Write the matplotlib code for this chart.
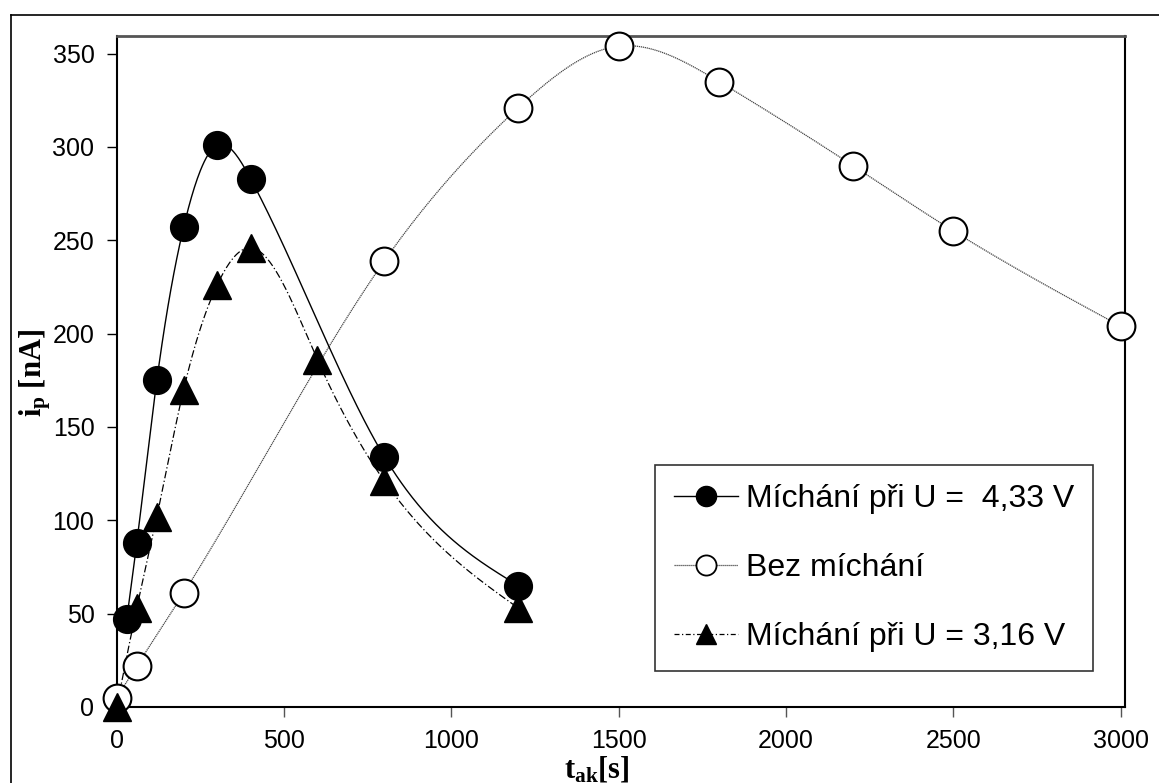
import numpy as np
import matplotlib.pyplot as plt
from matplotlib.lines import Line2D

# data
t_433 = [30, 60, 120, 200, 300, 400, 800, 1200]
i_433 = [47, 88, 175, 257, 301, 283, 134, 65]

t_bez = [0, 60, 200, 800, 1200, 1500, 1800, 2200, 2500, 3000]
i_bez = [5, 22, 61, 239, 321, 354, 335, 290, 255, 204]

t_316 = [0, 60, 120, 200, 300, 400, 600, 800, 1200]
i_316 = [0, 53, 102, 170, 226, 246, 186, 121, 53]

x_ticks = [0, 500, 1000, 1500, 2000, 2500, 3000]
y_ticks = [0, 50, 100, 150, 200, 250, 300, 350]

labels = ['Míchání při U =  4,33 V', 'Bez míchání', 'Míchání při U = 3,16 V']


def spline(x, y, n=400):
    # natural cubic spline through the points, for the smooth connecting line
    x = np.asarray(x, float)
    y = np.asarray(y, float)
    k = len(x)
    h = np.diff(x)
    A = np.zeros((k, k))
    b = np.zeros(k)
    A[0, 0] = A[-1, -1] = 1
    for i in range(1, k - 1):
        A[i, i - 1] = h[i - 1]
        A[i, i] = 2 * (h[i - 1] + h[i])
        A[i, i + 1] = h[i]
        b[i] = 6 * ((y[i + 1] - y[i]) / h[i] - (y[i] - y[i - 1]) / h[i - 1])
    M = np.linalg.solve(A, b)
    xs = np.linspace(x[0], x[-1], n)
    j = np.clip(np.searchsorted(x, xs) - 1, 0, k - 2)
    d = xs - x[j]
    hj = h[j]
    a = (y[j + 1] - y[j]) / hj - hj * (2 * M[j] + M[j + 1]) / 6
    ys = y[j] + a * d + M[j] / 2 * d ** 2 + (M[j + 1] - M[j]) / (6 * hj) * d ** 3
    return xs, ys


plt.rcParams['font.family'] = ['Liberation Sans', 'DejaVu Sans']
plt.rcParams['mathtext.fontset'] = 'custom'
plt.rcParams['mathtext.bf'] = 'Liberation Serif:bold'
plt.rcParams['mathtext.rm'] = 'Liberation Serif'
plt.rcParams['mathtext.it'] = 'Liberation Serif:italic'

fig = plt.figure(figsize=(11.59, 7.83), dpi=100)
ax = fig.add_axes([116.7 / 1159, 1 - 707 / 783, (1125 - 116.7) / 1159, (707 - 35.7) / 783])

dot_ls = (0, (1, 0.6))
dash_dot = (0, (6, 2, 1, 2))

xs, ys = spline(t_bez, i_bez)
ax.plot(xs, ys, color='#444444', lw=0.9, ls=dot_ls, zorder=2)
ax.plot(t_bez, i_bez, ls='none', marker='o', ms=20, mfc='white', mec='black', mew=1.5,
        zorder=3, clip_on=False)

xs, ys = spline(t_433, i_433)
ax.plot(xs, ys, color='black', lw=1.0, zorder=2)
ax.plot(t_433, i_433, ls='none', marker='o', ms=20, mfc='black', mec='black', zorder=4, clip_on=False)

xs, ys = spline(t_316, i_316)
ax.plot(xs, ys, color='black', lw=0.9, ls=dash_dot, zorder=2)
ax.plot(t_316, i_316, ls='none', marker='^', ms=20, mfc='black', mec='black', zorder=5, clip_on=False)

ax.set_xlim(0, 3013)
ax.set_ylim(0, 359.6)
ax.set_xticks(x_ticks)
ax.set_yticks(y_ticks)
ax.tick_params(axis='both', direction='out', length=7, width=1, labelsize=18, pad=9)
ax.tick_params(axis='x', color='#555555')
for s in ['left', 'bottom', 'right']:
    ax.spines[s].set_linewidth(1.5)
ax.spines['top'].set_color('#555555')
ax.spines['top'].set_linewidth(2)

fig.text(597 / 1159, 1 - 770 / 783, r'$\mathbf{t_{ak}[s]}$', ha='center', va='center',
         fontsize=22)
fig.text(35 / 1159, 1 - 373 / 783, r'$\mathbf{i_{p}}$ [nA]', ha='center', va='center',
         fontsize=22, fontweight='bold', family='Liberation Serif', rotation=90)

h1 = Line2D([], [], color='black', lw=1, marker='o', ms=14.5, mfc='black', mec='black')
h2 = Line2D([], [], color='#444444', lw=0.9, ls=dot_ls, marker='o', ms=14.5, mfc='white', mec='black', mew=1.3)
h3 = Line2D([], [], color='black', lw=0.9, ls=(0, (4, 2, 1, 2)), marker='^', ms=14.5, mfc='black', mec='black')
leg = ax.legend([h1, h2, h3], labels,
                loc='upper left', bbox_to_anchor=(655 / 1159, 1 - 464.7 / 783), bbox_transform=fig.transFigure,
                borderaxespad=0, fontsize=23, frameon=True, fancybox=False, edgecolor='black',
                handlelength=2.0, handletextpad=0.25, labelspacing=1.22, borderpad=0.6)
leg.get_frame().set_linewidth(1.2)
leg.set_zorder(6)

# outer frame lines
fig.add_artist(Line2D([11 / 1159, 11 / 1159], [0, 1 - 14.7 / 783], color='black', lw=1.2))
fig.add_artist(Line2D([11 / 1159, 1], [1 - 14.7 / 783, 1 - 14.7 / 783], color='black', lw=1.2))

fig.savefig('out.png', dpi=100)
